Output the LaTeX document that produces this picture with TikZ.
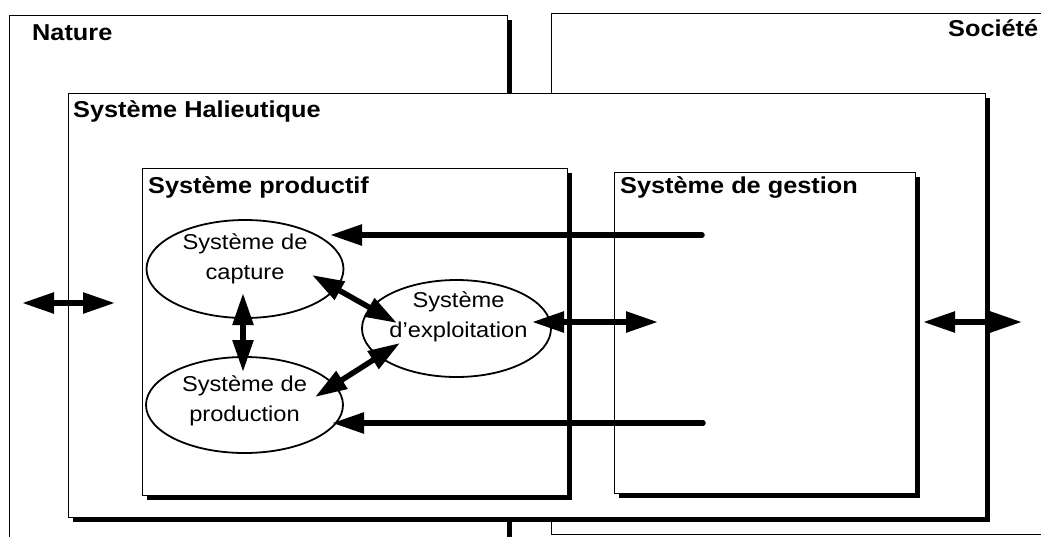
\documentclass[tikz,border=0pt]{standalone}
\usepackage{fontspec}
\setmainfont{Liberation Sans}[FakeStretch=1.1]
\usetikzlibrary{arrows.meta, shapes.geometric, shadows}
\tikzset{>={Triangle[length=32pt, width=20pt]}}
\tikzset{
    box/.style = {draw, line width=1.2pt, fill=white, anchor=north west, inner sep=0pt},
    sbox/.style = {box, drop shadow={shadow xshift=4pt, shadow yshift=-4pt, fill=black, opacity=1}},
    syst/.style = {ellipse, draw, line width=1.8pt, inner sep=0pt},
    title/.style = {anchor=base west, inner sep=0pt, font=\bfseries\fontsize{23}{27}\selectfont},
    txt/.style = {align=center, inner sep=0pt, font=\fontsize{21.5}{30}\selectfont},
    flow/.style = {line width=5.5pt, line cap=round}
}

\begin{document}
\begin{tikzpicture}[x=1pt, y=-1pt]
    \useasboundingbox (0,0) rectangle (1041,536);
    \clip (0,0) rectangle (1041,536);
    \node[sbox, minimum width=498pt, minimum height=560pt] (nat) at (9,15) {};
    \node[box, minimum width=540pt, minimum height=521pt] (soc) at (551,13) {};
    \node[sbox, minimum width=917pt, minimum height=424pt] (hal) at (68,93) {};
    \node[sbox, minimum width=425pt, minimum height=327pt] (prodf) at (142,168) {};
    \node[sbox, minimum width=301pt, minimum height=321pt] (gest) at (614,172) {};
    \node[title] (tnat) at (32,40) {Nature};
    \node[title] (tsoc) at (948,36) {Société};
    \node[title] (thal) at (73,117) {Système Halieutique};
    \node[title] (tprodf) at (148,193) {Système productif};
    \node[title] (tgest) at (620,193) {Système de gestion};
    \node[syst, minimum width=197pt, minimum height=98pt] (cap) at (245,269) {};
    \node[syst, minimum width=197pt, minimum height=96pt] (prod) at (244.5,405) {};
    \node[syst, minimum width=189pt, minimum height=97pt] (expl) at (456.5,328.5) {};
    \node[txt] (tcap) at ([shift={(0,-10)}]cap.center) {Système de\\capture};
    \node[txt] (tprod) at ([shift={(0,-4)}]prod.center) {Système de\\production};
    \node[txt] (texpl) at ([shift={(2,-12)}]expl.center) {Système\\d'exploitation};
    \coordinate (g1) at (702,235);
    \coordinate (g2) at (703,423);
    \coordinate (g3) at (658,322);
    \coordinate (n1) at (22,303);
    \coordinate (n2) at (115,303);
    \coordinate (s1) at (923,322);
    \coordinate (s2) at (1022,322);
    \draw[flow, ->] (g1) -- ([shift={(85,-34)}]cap.center);
    \draw[flow, ->] (g2) -- ([shift={(87.5,18)}]prod.center);
    \draw[flow, <->] ([shift={(75.5,-6.5)}]expl.center) -- (g3);
    \draw[flow, <->] ([shift={(-2,24)}]cap.center) -- ([shift={(-1.5,-33)}]prod.center);
    \draw[flow, <->] ([shift={(67,6)}]cap.center) -- ([shift={(-59.5,-5.5)}]expl.center);
    \draw[flow, <->] ([shift={(70.5,-8)}]prod.center) -- ([shift={(-56.5,14.5)}]expl.center);
    \draw[flow, <->] (n1) -- (n2);
    \draw[flow, <->] (s1) -- (s2);
\end{tikzpicture}
\end{document}
